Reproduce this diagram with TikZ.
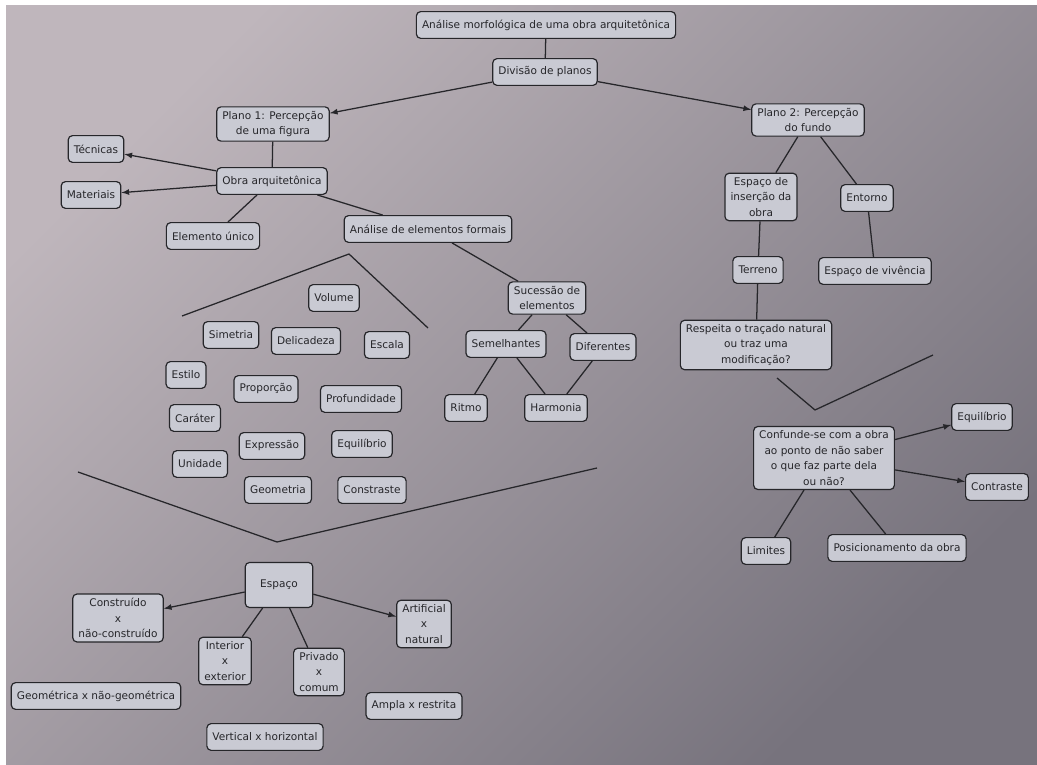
\documentclass[tikz,border=0pt]{standalone}
\usepackage{fontspec}
\setmainfont{DejaVu Sans}
\usetikzlibrary{arrows}
\definecolor{bgtop}{HTML}{BFB6BC}
\definecolor{bgmid}{HTML}{ADA6AD}
\definecolor{bgbot}{HTML}{77737D}
\definecolor{boxfill}{HTML}{C9CAD3}
\definecolor{ink}{HTML}{26262A}

\begin{document}
\begin{tikzpicture}[x=0.25mm,y=-0.25mm,>=latex,
  concept/.style={draw=ink,fill=boxfill,rounded corners=3pt,line width=0.85pt,
    text=ink,align=center,font=\fontsize{7.5}{11}\selectfont,
    inner xsep=4pt,inner ysep=3pt,minimum height=19pt},
  link/.style={draw=ink,line width=0.9pt}]
\shade[top color=bgtop,middle color=bgmid,bottom color=bgbot,shading angle=45] (0,0) rectangle (1037,765);
\fill[white] (0,0) rectangle (1037,5);
\fill[white] (0,0) rectangle (6,765);
\useasboundingbox (0,0) rectangle (1037,765);

\node[concept] (morf)    at (546,25)  {Análise morfológica de uma obra arquitetônica};
\node[concept] (div)     at (545,72)  {Divisão de planos};
\node[concept] (pl1)     at (273,124) {Plano 1: Percepção\\de uma figura};
\node[concept] (pl2)     at (808,120) {Plano 2: Percepção\\do fundo};
\node[concept] (tec)     at (96,149)  {Técnicas};
\node[concept] (mat)     at (91,195)  {Materiais};
\node[concept] (obra)    at (272,181) {Obra arquitetônica};
\node[concept] (unico)   at (213,236) {Elemento único};
\node[concept] (formais) at (428,229) {Análise de elementos formais};

\node[concept] (vol)  at (334,298) {Volume};
\node[concept] (sim)  at (231,335) {Simetria};
\node[concept] (del)  at (306,341) {Delicadeza};
\node[concept] (esc)  at (387,345) {Escala};
\node[concept] (est)  at (186,375) {Estilo};
\node[concept] (prop) at (266,389) {Proporção};
\node[concept] (prof) at (361,399) {Profundidade};
\node[concept] (car)  at (195,418) {Caráter};
\node[concept] (expr) at (272,446) {Expressão};
\node[concept] (equi) at (362,444) {Equilíbrio};
\node[concept] (unid) at (200,464) {Unidade};
\node[concept] (geo)  at (278,490) {Geometria};
\node[concept] (cons) at (372,490) {Constraste};

\node[concept] (suc)  at (547,298) {Sucessão de\\elementos};
\node[concept] (sem)  at (506,344) {Semelhantes};
\node[concept] (dif)  at (603,347) {Diferentes};
\node[concept] (rit)  at (466,408) {Ritmo};
\node[concept] (harm) at (556,408) {Harmonia};

\node[concept] (insr)  at (761,197) {Espaço de\\inserção da\\obra};
\node[concept] (ent)   at (867,198) {Entorno};
\node[concept] (ter)   at (758,270) {Terreno};
\node[concept] (viv)   at (875,271) {Espaço de vivência};
\node[concept] (resp)  at (756,345) {Respeita o traçado natural\\ou traz uma\\modificação?};
\node[concept] (conf)  at (824,458) {Confunde-se com a obra\\ao ponto de não saber\\o que faz parte dela\\ou não?};
\node[concept] (equi2) at (982,417) {Equilíbrio};
\node[concept] (contr) at (997,487) {Contraste};
\node[concept] (lim)   at (766,551) {Limites};
\node[concept] (pos)   at (897,548) {Posicionamento da obra};

\node[concept,minimum width=48pt,minimum height=32pt] (esp) at (279,585) {Espaço};
\node[concept] (constr) at (118,618) {Construído\\x\\não-construído};
\node[concept] (inter)  at (225,661) {Interior\\x\\exterior};
\node[concept] (priv)   at (319,672) {Privado\\x\\comum};
\node[concept] (artif)  at (424,624) {Artificial\\x\\natural};
\node[concept] (geom)   at (96,696)  {Geométrica x não-geométrica};
\node[concept] (ampla)  at (414,706) {Ampla x restrita};
\node[concept] (vert)   at (265,737) {Vertical x horizontal};

\coordinate (fl) at (182,316);
\coordinate (fa) at (349,254);
\coordinate (fr) at (428,328);
\coordinate (bl) at (78,472);
\coordinate (ba) at (277,542);
\coordinate (br) at (597,468);
\coordinate (rl) at (777,378);
\coordinate (ra) at (815,410);
\coordinate (rr) at (933,355);

\draw[link]    (morf)    -- (div);
\draw[link,->] (div)     -- (pl1);
\draw[link,->] (div)     -- (pl2);
\draw[link]    (pl1)     -- (obra);
\draw[link,->] (obra)    -- (tec);
\draw[link,->] (obra)    -- (mat);
\draw[link]    (obra)    -- (unico);
\draw[link]    (obra)    -- (formais);
\draw[link]    (formais) -- (suc);
\draw[link]    (fl) -- (fa) -- (fr);
\draw[link]    (suc)     -- (sem);
\draw[link]    (suc)     -- (dif);
\draw[link]    (sem)     -- (rit);
\draw[link]    (sem)     -- (harm);
\draw[link]    (dif)     -- (harm);
\draw[link]    (bl) -- (ba) -- (br);

\draw[link]    (pl2)     -- (insr);
\draw[link]    (pl2)     -- (ent);
\draw[link]    (insr)    -- (ter);
\draw[link]    (ent)     -- (viv);
\draw[link]    (ter)     -- (resp);
\draw[link]    (rl) -- (ra) -- (rr);
\draw[link,->] (conf)    -- (equi2);
\draw[link,->] (conf)    -- (contr);
\draw[link]    (conf)    -- (lim);
\draw[link]    (conf)    -- (pos);

\draw[link,->] (esp)     -- (constr);
\draw[link,->] (esp)     -- (artif);
\draw[link]    (esp)     -- (inter);
\draw[link]    (esp)     -- (priv);
\end{tikzpicture}
\end{document}
